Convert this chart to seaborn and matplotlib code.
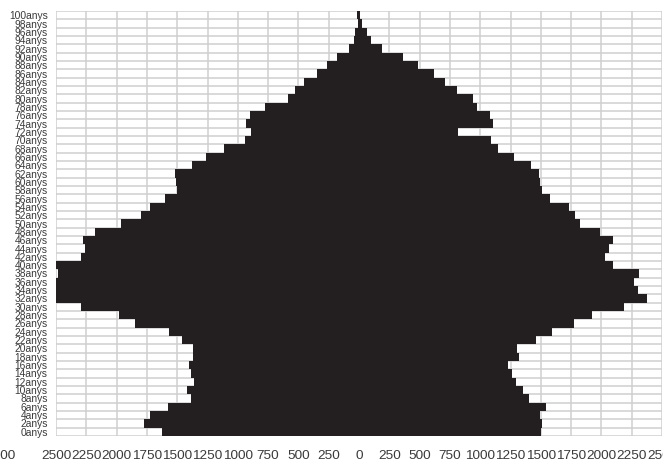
import numpy as np
import pandas as pd
import matplotlib
matplotlib.use("Agg")
import matplotlib.pyplot as plt
import matplotlib.transforms as mtransforms
import seaborn as sns

sns.set_style("white")
plt.rcParams["font.family"] = ["Liberation Sans", "DejaVu Sans"]

# age groups, top to bottom
ages = list(range(100, -1, -2))
labels = [str(a) + "anys" for a in ages]

# left side of the pyramid
left_vals = [14, 10, 37, 38, 84, 183, 266, 345, 456, 531,
             590, 774, 902, 934, 892, 944, 1115, 1262, 1380, 1521,
             1511, 1505, 1597, 1721, 1800, 1961, 2180, 2279, 2259, 2295,
             2510, 2485, 2510, 2520, 2510, 2292, 1980, 1852, 1570, 1459,
             1370, 1370, 1400, 1384, 1364, 1423, 1390, 1580, 1721, 1770,
             1623]

# right side of the pyramid
right_vals = [8, 28, 63, 100, 187, 359, 486, 620, 708, 810,
              938, 977, 1082, 1108, 820, 1089, 1148, 1279, 1423, 1485,
              1492, 1508, 1574, 1731, 1784, 1820, 1987, 2098, 2059, 2030,
              2098, 2311, 2272, 2305, 2377, 2190, 1921, 1770, 1593, 1462,
              1305, 1321, 1233, 1259, 1295, 1351, 1403, 1541, 1495, 1511,
              1502]

xticks = np.arange(-2500, 2501, 250)

df = pd.DataFrame({"edat": labels,
                   "esq": -np.array(left_vals),
                   "dre": right_vals})

bar_color = "#231f20"
grid_color = "#cfcfcf"
text_color = "#3a3a3a"

f = plt.figure(figsize=(6.63, 4.65), dpi=100)
f.subplots_adjust(left=0.0845, right=0.9985, top=0.9763, bottom=0.0624)
ax = f.add_subplot(111)

sns.barplot(data=df, x="esq", y="edat", order=labels, orient="h",
            color=bar_color, saturation=1, width=1, linewidth=0, ax=ax)
sns.barplot(data=df, x="dre", y="edat", order=labels, orient="h",
            color=bar_color, saturation=1, width=1, linewidth=0, ax=ax)

ax.set_xlim(-2500, 2500)
ax.set_ylim(len(labels) - 0.5, -0.5)
ax.set_xticks(xticks)
ax.set_xticklabels([str(abs(v)) for v in xticks])
ax.set_yticks(np.arange(-0.5, len(labels), 1), minor=True)

ax.set_axisbelow(True)
ax.xaxis.grid(True, color=grid_color, lw=1.1)
ax.yaxis.grid(True, which="minor", color=grid_color, lw=1.1)
ax.yaxis.grid(False, which="major")
for s in ax.spines.values():
    s.set_visible(False)

ax.tick_params(axis="x", length=0, pad=10, labelsize=9.7, labelcolor=text_color)
ax.tick_params(axis="y", which="both", length=0, pad=6, labelsize=7.4,
               labelcolor=text_color)
ax.set_xlabel("")
ax.set_ylabel("")

# stray axis label cut by the left border
f.text(0.0, 0.0323, "2500", ha="center", va="top", fontsize=9.7,
       color=text_color)

plt.savefig("out.png", dpi=100)
